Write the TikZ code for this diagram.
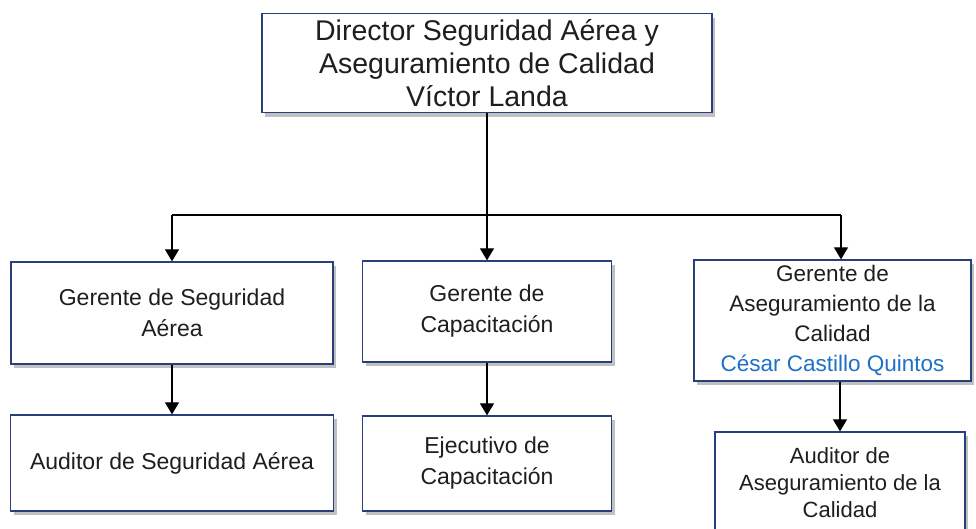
\documentclass[tikz,border=0pt]{standalone}
\usepackage{fontspec}
\setmainfont{Liberation Sans}
\usetikzlibrary{shadows,arrows.meta}
\definecolor{boxborder}{RGB}{40,62,125}
\definecolor{nameblue}{RGB}{30,112,200}
\definecolor{txt}{RGB}{30,30,30}
\tikzset{
  box/.style={draw=boxborder, line width=1.3pt, fill=white, align=center,
    text=txt, inner sep=0pt,
    drop shadow={shadow xshift=3pt, shadow yshift=-4pt, fill=black!45, opacity=0.55}},
  bigtxt/.style={font=\fontsize{28.5}{33}\selectfont},
  midtxt/.style={font=\fontsize{23}{31}\selectfont},
  smalltxt/.style={font=\fontsize{22}{27}\selectfont},
  arr/.style={draw=black, line width=1.2pt, -{Triangle[width=14pt,length=12pt]}},
  link/.style={draw=black, line width=1.2pt}
}
\begin{document}
\begin{tikzpicture}[x=1pt,y=-1pt]
\useasboundingbox (0,0) rectangle (976,528);
\clip (0,0) rectangle (976,528);
\node[box,bigtxt,minimum width=450pt,minimum height=99pt] (top) at (487,63)
  {Director Seguridad Aérea y\\Aseguramiento de Calidad\\Víctor Landa};
\node[box,midtxt,minimum width=322pt,minimum height=102pt] (g1) at (172,313)
  {Gerente de Seguridad\\Aérea};
\node[box,midtxt,minimum width=249pt,minimum height=101pt] (g2) at (487,311.5)
  {Gerente de\\Capacitación};
\node[box,minimum width=277pt,minimum height=121pt,font=\fontsize{22.5}{30}\selectfont] (g3) at (832.5,320.5)
  {Gerente de\\Aseguramiento de la\\Calidad\\\textcolor{nameblue}{César Castillo Quintos}};
\node[box,midtxt,minimum width=323pt,minimum height=96pt] (a1) at (172,463)
  {Auditor de Seguridad Aérea};
\node[box,midtxt,minimum width=249pt,minimum height=95pt] (a2) at (487,463.5)
  {Ejecutivo de\\Capacitación};
\node[box,smalltxt,minimum width=250pt,minimum height=102pt] (a3) at (840,483)
  {Auditor de\\Aseguramiento de la\\Calidad};
\coordinate (jl) at (172,215);
\coordinate (jr) at (841,215);
\draw[link] (jl) -- (jr);
\draw[arr] (top.south) -- (g2.north);
\draw[arr] (jl) -- (g1.north);
\draw[arr] (jr) -- (jr |- g3.north);
\draw[arr] (g1.south) -- (a1.north);
\draw[arr] (g2.south) -- (a2.north);
\draw[arr] (a3.north |- g3.south) -- (a3.north);
\end{tikzpicture}
\end{document}
